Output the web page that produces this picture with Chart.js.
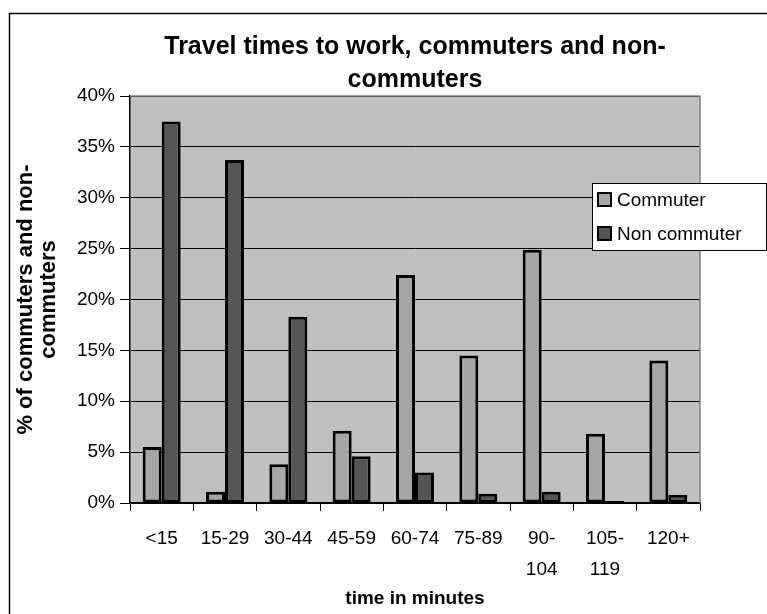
<!DOCTYPE html>
<html>
<head>
<meta charset="utf-8">
<script src="https://cdn.jsdelivr.net/npm/chart.js@4.4.0/dist/chart.umd.min.js"></script>
<style>
  html, body { margin: 0; padding: 0; background: #fff; }
  canvas { display: block; }
</style>
</head>
<body>
<canvas id="grafico" width="767" height="614"></canvas>
<script>
// Dados
const categorias = ['<15', '15-29', '30-44', '45-59', '60-74', '75-89', ['90-', '104'], ['105-', '119'], '120+'];
const commuter = [5.5, 1.1, 3.8, 7.1, 22.4, 14.5, 24.9, 6.8, 14.0];
const nonCommuter = [37.5, 33.7, 18.3, 4.6, 3.0, 0.9, 1.1, 0.2, 0.8];
const rotulosSeries = ['Commuter', 'Non commuter'];

const fonte = 'Liberation Sans, Arial, sans-serif';

// Fundo, moldura e área cinza
const fundo = {
  id: 'fundo',
  beforeDraw(chart) {
    const { ctx, chartArea: a } = chart;
    ctx.save();
    ctx.fillStyle = '#fff';
    ctx.fillRect(0, 0, chart.width, chart.height);
    ctx.strokeStyle = '#000';
    ctx.lineWidth = 1.5;
    ctx.beginPath();
    ctx.moveTo(9.5, chart.height + 5);
    ctx.lineTo(9.5, 13.5);
    ctx.lineTo(chart.width + 5, 13.5);
    ctx.stroke();
    ctx.fillStyle = '#c0c0c0';
    ctx.fillRect(a.left, a.top, a.right - a.left, a.bottom - a.top);
    ctx.restore();
  },
  afterDatasetsDraw(chart) {
    const { ctx, chartArea: a } = chart;
    ctx.save();
    ctx.strokeStyle = '#808080';
    ctx.lineWidth = 1.5;
    ctx.beginPath();
    ctx.moveTo(a.left, a.top);
    ctx.lineTo(a.right, a.top);
    ctx.lineTo(a.right, a.bottom);
    ctx.stroke();
    ctx.restore();
  }
};

// Legenda desenhada por cima da área do gráfico
const legendaCaixa = {
  id: 'legendaCaixa',
  afterDraw(chart) {
    const { ctx, chartArea: a } = chart;
    const x = a.right - 108, y = 183, w = 174, h = 67;
    ctx.save();
    ctx.fillStyle = '#fff';
    ctx.fillRect(x, y, w, h);
    ctx.strokeStyle = '#000';
    ctx.lineWidth = 1;
    ctx.strokeRect(x + 0.5, y + 0.5, w, h);
    ctx.font = '19px ' + fonte;
    ctx.textBaseline = 'middle';
    chart.data.datasets.forEach((ds, i) => {
      const cy = y + 17 + i * 34;
      ctx.fillStyle = ds.backgroundColor;
      ctx.fillRect(x + 6, cy - 7, 13, 13);
      ctx.lineWidth = 2;
      ctx.strokeRect(x + 6, cy - 7, 13, 13);
      ctx.fillStyle = '#000';
      ctx.fillText(ds.label, x + 25, cy + 1);
    });
    ctx.restore();
  }
};

new Chart(document.getElementById('grafico'), {
  type: 'bar',
  data: {
    labels: categorias,
    datasets: [{
      label: rotulosSeries[0],
      data: commuter,
      backgroundColor: '#a6a6a6',
      borderColor: '#000',
      borderWidth: 3,
      borderSkipped: false
    }, {
      label: rotulosSeries[1],
      data: nonCommuter,
      backgroundColor: '#555555',
      borderColor: '#000',
      borderWidth: 3,
      borderSkipped: false
    }]
  },
  options: {
    responsive: false,
    animation: false,
    devicePixelRatio: 1,
    layout: { padding: { left: 14, right: 67, top: 0, bottom: 4 } },
    datasets: { bar: { categoryPercentage: 0.6, barPercentage: 1 } },
    plugins: {
      legend: { display: false },
      tooltip: { enabled: false },
      title: {
        display: true,
        fullSize: false,
        text: ['Travel times to work, commuters and non-', 'commuters'],
        color: '#000',
        font: { family: fonte, size: 25, weight: 'bold', lineHeight: 1.3 },
        padding: { top: 31, bottom: 0 }
      }
    },
    scales: {
      x: {
        grid: { drawOnChartArea: false, color: '#000', tickLength: 8, lineWidth: 1 },
        border: { color: '#000', width: 1.5 },
        ticks: {
          color: '#000',
          maxRotation: 0,
          autoSkip: false,
          padding: 12,
          font: { family: fonte, size: 19, lineHeight: 1.65 }
        },
        title: {
          display: true,
          text: 'time in minutes',
          color: '#000',
          font: { family: fonte, size: 19, weight: 'bold' },
          padding: { top: 0, bottom: 0 }
        },
        afterFit(scale) { scale.height = 107; }
      },
      y: {
        min: 0,
        max: 40,
        grid: { color: '#000', lineWidth: 1, tickLength: 10 },
        border: { color: '#000', width: 1.5 },
        ticks: {
          stepSize: 5,
          color: '#000',
          padding: 5,
          font: { family: fonte, size: 19 },
          callback: v => v + '%'
        },
        title: {
          display: true,
          text: ['% of commuters and non-', 'commuters'],
          color: '#000',
          font: { family: fonte, size: 22, weight: 'bold', lineHeight: 1.05 },
          padding: { top: 0, bottom: 0 }
        },
        afterFit(scale) { scale.width = 116; }
      }
    }
  },
  plugins: [fundo, legendaCaixa]
});
</script>
</body>
</html>
